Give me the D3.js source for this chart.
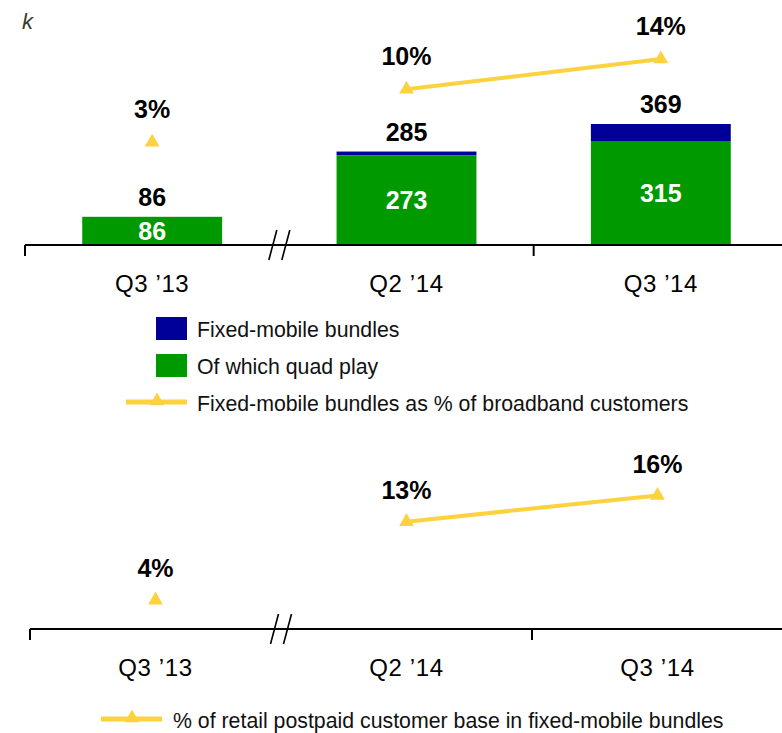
<!doctype html>
<html lang="en">
  <head>
    <meta charset="utf-8">
    <title>Fixed-mobile bundles</title>
    <style>
      body { margin: 0; background: #fff; }
      svg { display: block; font-family: Arial, "Liberation Sans", sans-serif; }
    </style>
  </head>
  <body>
    <div id="aqui"></div>
    <script src="https://d3js.org/d3.v7.min.js"></script>
    <script>
      // data
      var categories = ["Q3 \u201913", "Q2 \u201914", "Q3 \u201914"];
      var quadPlay = [86, 273, 315];          // green part
      var fixedMobile = [86, 285, 369];       // total bar
      var broadbandPct = [3, 10, 14];         // top line, %
      var postpaidPct = [4, 13, 16];          // bottom line, %
      var breakAfter = 0;                     // axis break sits after Q3 '13

      var w = 782, h = 733;
      var green = "#009900", blue = "#000099", yellow = "#FDD23F";

      var svg = d3.select("#aqui")
        .append("svg")
        .attr("width", w)
        .attr("height", h);

      // ---------- top chart ----------
      var x1 = d3.scaleBand()
        .domain(categories)
        .range([25, 788])
        .paddingInner(0.45)
        .paddingOuter(0.225);

      var y1 = d3.scaleLinear().domain([0, 369]).range([245, 124]);
      var p1 = d3.scaleLinear().domain([0, 14]).range([165, 59]);

      svg.append("text")
        .attr("x", 22).attr("y", 29)
        .attr("fill", "#3a3a32")
        .style("font-size", "22px")
        .style("font-style", "italic")
        .text("k");

      var rows = categories.map(function(c, i) {
        return { cat: c, quad: quadPlay[i], total: fixedMobile[i], pct: broadbandPct[i], pct2: postpaidPct[i], i: i };
      });

      var g = svg.selectAll("g.bar")
        .data(rows)
        .enter()
        .append("g")
        .attr("class", "bar");

      // blue = fixed-mobile bundles beyond quad play
      g.append("rect")
        .attr("x", function(d) { return x1(d.cat); })
        .attr("y", function(d) { return y1(d.total); })
        .attr("width", x1.bandwidth())
        .attr("height", function(d) { return y1(d.quad) - y1(d.total); })
        .attr("fill", blue);

      g.append("rect")
        .attr("x", function(d) { return x1(d.cat); })
        .attr("y", function(d) { return y1(d.quad); })
        .attr("width", x1.bandwidth())
        .attr("height", function(d) { return y1(0) - y1(d.quad); })
        .attr("fill", green);

      g.append("text")
        .attr("x", function(d) { return x1(d.cat) + x1.bandwidth() / 2; })
        .attr("y", function(d) { return (y1(d.quad) + y1(0)) / 2; })
        .attr("dy", "0.36em")
        .attr("text-anchor", "middle")
        .attr("fill", "#fff")
        .style("font-size", "25px")
        .style("font-weight", "bold")
        .text(function(d) { return d.quad; });

      g.append("text")
        .attr("x", function(d) { return x1(d.cat) + x1.bandwidth() / 2; })
        .attr("y", function(d) { return y1(d.total) - 11; })
        .attr("text-anchor", "middle")
        .attr("fill", "#000")
        .style("font-size", "25px")
        .style("font-weight", "bold")
        .text(function(d) { return d.total; });

      // draws axis line, ticks, break mark and category labels
      function drawAxis(x, y0) {
        var step = x.step();
        var start = x.range()[0];
        svg.append("line")
          .attr("x1", start).attr("x2", w)
          .attr("y1", y0).attr("y2", y0)
          .attr("stroke", "#000").attr("stroke-width", 2);
        [0, 2].forEach(function(k) {
          svg.append("line")
            .attr("x1", start + k * step).attr("x2", start + k * step)
            .attr("y1", y0).attr("y2", y0 + 11)
            .attr("stroke", "#000").attr("stroke-width", 2);
        });
        var bx = start + (breakAfter + 1) * step;
        [-6.5, 6.5].forEach(function(o) {
          svg.append("line")
            .attr("x1", bx + o - 4).attr("y1", y0 + 15)
            .attr("x2", bx + o + 4).attr("y2", y0 - 15)
            .attr("stroke", "#000").attr("stroke-width", 1.6);
        });
        svg.selectAll(null)
          .data(categories)
          .enter()
          .append("text")
          .attr("x", function(d) { return x(d) + x.bandwidth() / 2; })
          .attr("y", y0 + 47)
          .attr("text-anchor", "middle")
          .attr("fill", "#000")
          .style("font-size", "24px")
          .style("letter-spacing", "0.6px")
          .text(function(d) { return d; });
      }

      // draws a yellow line with triangles and bold % labels
      function drawPct(x, p, key, lift) {
        var line = d3.line()
          .x(function(d) { return x(d.cat) + x.bandwidth() / 2; })
          .y(function(d) { return p(d[key]); });
        svg.append("path")
          .attr("d", line(rows.filter(function(d) { return d.i > breakAfter; })))
          .attr("fill", "none")
          .attr("stroke", yellow)
          .attr("stroke-width", 4);
        svg.selectAll(null)
          .data(rows)
          .enter()
          .append("path")
          .attr("d", d3.symbol(d3.symbolTriangle, 95))
          .attr("transform", function(d) { return "translate(" + (x(d.cat) + x.bandwidth() / 2) + "," + p(d[key]) + ")"; })
          .attr("fill", yellow);
        svg.selectAll(null)
          .data(rows)
          .enter()
          .append("text")
          .attr("x", function(d) { return x(d.cat) + x.bandwidth() / 2; })
          .attr("y", function(d) { return p(d[key]) - lift; })
          .attr("text-anchor", "middle")
          .attr("fill", "#000")
          .style("font-size", "25px")
          .style("font-weight", "bold")
          .text(function(d) { return d[key] + "%"; });
      }

      drawAxis(x1, 245);
      drawPct(x1, p1, "pct", 24);

      // legend, top chart
      var legend1 = [
        { label: "Fixed-mobile bundles", color: blue, type: "box" },
        { label: "Of which quad play", color: green, type: "box" },
        { label: "Fixed-mobile bundles as % of broadband customers", color: yellow, type: "line" }
      ];
      var lg = svg.selectAll("g.legend")
        .data(legend1)
        .enter()
        .append("g")
        .attr("class", "legend")
        .attr("transform", function(d, i) { return "translate(0," + (329 + i * 37) + ")"; });

      lg.filter(function(d) { return d.type == "box"; })
        .append("rect")
        .attr("x", 156).attr("y", -12)
        .attr("width", 31).attr("height", 23)
        .attr("fill", function(d) { return d.color; });

      var ll = lg.filter(function(d) { return d.type == "line"; });
      ll.append("line")
        .attr("x1", 126).attr("x2", 187)
        .attr("y1", -1).attr("y2", -1)
        .attr("stroke", yellow).attr("stroke-width", 5);
      ll.append("path")
        .attr("d", d3.symbol(d3.symbolTriangle, 95))
        .attr("transform", "translate(157,-2)")
        .attr("fill", yellow);

      lg.append("text")
        .attr("x", 197).attr("y", 8)
        .attr("fill", "#111")
        .style("font-size", "21.3px")
        .text(function(d) { return d.label; });

      // ---------- bottom chart ----------
      var x2 = d3.scaleBand()
        .domain(categories)
        .range([30, 783])
        .paddingInner(0.45)
        .paddingOuter(0.225);
      var p2 = d3.scaleLinear().domain([0, 16]).range([635, 495.5]);

      drawAxis(x2, 629);
      drawPct(x2, p2, "pct2", 23);

      var lb = svg.append("g").attr("transform", "translate(0,719)");
      lb.append("line")
        .attr("x1", 101).attr("x2", 162)
        .attr("y1", 0).attr("y2", 0)
        .attr("stroke", yellow).attr("stroke-width", 5);
      lb.append("path")
        .attr("d", d3.symbol(d3.symbolTriangle, 95))
        .attr("transform", "translate(132,-1)")
        .attr("fill", yellow);
      lb.append("text")
        .attr("x", 173).attr("y", 9)
        .attr("fill", "#111")
        .style("font-size", "21.3px")
        .text("% of retail postpaid customer base in fixed-mobile bundles");
    </script>
  </body>
</html>
